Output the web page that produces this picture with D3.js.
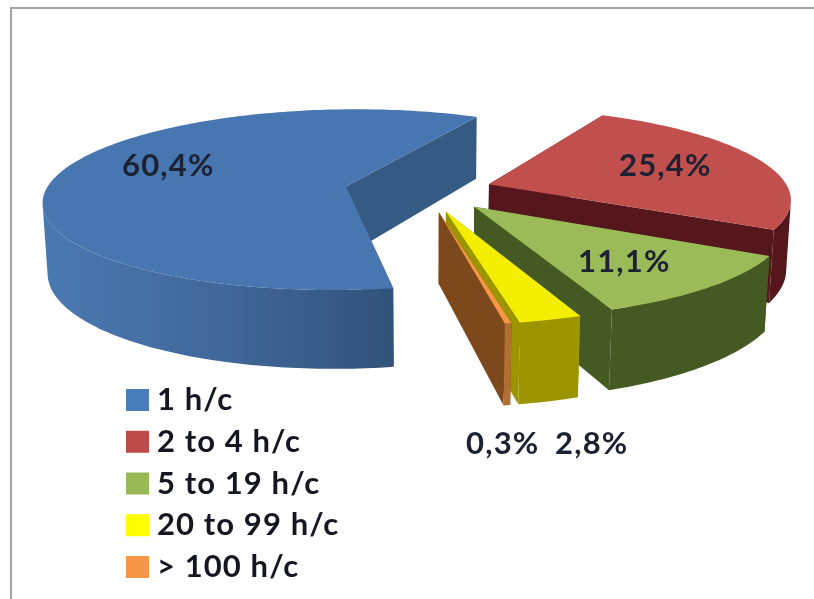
<!DOCTYPE html>
<html><head><meta charset="utf-8">
<script src="https://cdn.jsdelivr.net/npm/d3@7"></script>
<style>html,body{margin:0;background:#fff}svg{display:block}</style></head>
<body><svg id="c" width="814" height="599"></svg>
<script>
const categories = ["1 h/c","2 to 4 h/c","5 to 19 h/c","20 to 99 h/c","> 100 h/c"];
const values = [60.4,25.4,11.1,2.8,0.3];
const valueLabels = ["60,4%","25,4%","11,1%","2,8%","0,3%"];
const topColors = ["#4776b0","#c0504d","#9bbb59","#f4ee00","#f79646"];
const sideColors = ["#345a84","#54191a","#455a22","#9c9500","#7d4a1d"];
const rimColors = ["#3f6797","#54191a","#455a22","#9c9500","#b06f30"];
const legendColors = ["#4a7ebb","#be4b48","#98b954","#ffff00","#f79646"];
const explodeBy = [0.268,0.225,0.2426,0.2426,0.2426];

const svg=d3.select("#c");
const defs=svg.append("defs");
defs.append("filter").attr("id","soft").attr("x","-5%").attr("y","-5%").attr("width","110%").attr("height","110%")
  .append("feGaussianBlur").attr("stdDeviation",0.55);
svg.append("path").attr("d","M11 599V8H814").attr("fill","none").attr("stroke","#a4a4a4").attr("stroke-width",2);

// perspective model of the tilted, exploded pie
const cx=425,cy=190,a=300,b=89.5,p=0.1475,depth=70,q=0.013;
function proj(u,v,z){const w=1+p*v+q*z;return [cx+a*u/w,cy+(-b*v+depth*z)/w];}
const toRad=Math.PI/180;
const pie=d3.pie().sort(null).value(d=>d).startAngle(170*toRad).endAngle(530*toRad);
const arcs=pie(values);
const line=d3.line();

function sliceGeom(d,i){
  const mid=(d.startAngle+d.endAngle)/2;
  const ox=explodeBy[i]*Math.sin(mid),oy=explodeBy[i]*Math.cos(mid);
  const n=Math.max(2,Math.ceil((d.endAngle-d.startAngle)/0.02));
  const ang=d3.range(n+1).map(k=>d.startAngle+(d.endAngle-d.startAngle)*k/n);
  const at=(t,z)=>proj(ox+Math.sin(t),oy+Math.cos(t),z);
  return {ang,at,apex:z=>proj(ox,oy,z)};
}
// the outer wall faces the viewer where the rim's tangent turns against the extrusion direction
function facing(s,t){
  const P=s.at(t,0),N=s.at(t+0.001,0),B=s.at(t,1);
  return (N[0]-P[0])*(B[1]-P[1])-(N[1]-P[1])*(B[0]-P[0])<0;
}
const shadeBlue=defs.append("linearGradient").attr("id","rimBlue").attr("gradientUnits","userSpaceOnUse")
  .attr("x1",40).attr("x2",395).attr("y1",0).attr("y2",0);
shadeBlue.append("stop").attr("offset",0).attr("stop-color","#4a79b2");
shadeBlue.append("stop").attr("offset",0.5).attr("stop-color","#41689a");
shadeBlue.append("stop").attr("offset",1).attr("stop-color","#32527a");

const g=svg.append("g").attr("filter","url(#soft)");
values.forEach((_,i)=>{
  const s=sliceGeom(arcs[i],i);
  const sl=g.append("g");
  const t0=s.ang[0],t1=s.ang[s.ang.length-1];
  // radial walls
  [t0,t1].forEach(t=>{
    sl.append("path").attr("d",line([s.apex(0),s.at(t,0),s.at(t,1),s.apex(1)])+"Z").attr("fill",sideColors[i]);
  });
  // visible part of the outer wall
  const vis=s.ang.filter(t=>facing(s,t));
  if(vis.length>1){
    sl.append("path").attr("d",line(vis.map(t=>s.at(t,0)).concat(vis.slice().reverse().map(t=>s.at(t,1))))+"Z")
      .attr("fill",i===0?"url(#rimBlue)":rimColors[i]);
  }
  // top
  sl.append("path").attr("d",line([s.apex(0)].concat(s.ang.map(t=>s.at(t,0))))+"Z").attr("fill",topColors[i]);
});

const font="Lato, Carlito, sans-serif";
const labelPos=[[122,176],[619,176],[578,272],[555,454],[466,454]];
svg.append("g").attr("filter","url(#soft)").selectAll("text").data(valueLabels).join("text")
  .attr("x",(d,i)=>labelPos[i][0]).attr("y",(d,i)=>labelPos[i][1])
  .attr("font-family",font).attr("font-size",31).attr("font-weight",700).attr("letter-spacing",1.2)
  .attr("fill","#1a2230").text(d=>d);

const legendY=d3.scalePoint().domain(categories).range([400,567]);
const lg=svg.append("g").attr("filter","url(#soft)").selectAll("g").data(categories).join("g");
lg.append("rect").attr("x",126).attr("y",d=>legendY(d)-11).attr("width",23).attr("height",22)
  .attr("fill",(d,i)=>legendColors[i]);
lg.append("text").attr("x",157).attr("y",d=>legendY(d)+10)
  .attr("font-family",font).attr("font-size",31).attr("font-weight",700).attr("letter-spacing",1.1)
  .attr("fill","#141820").text(d=>d);
</script></body></html>
